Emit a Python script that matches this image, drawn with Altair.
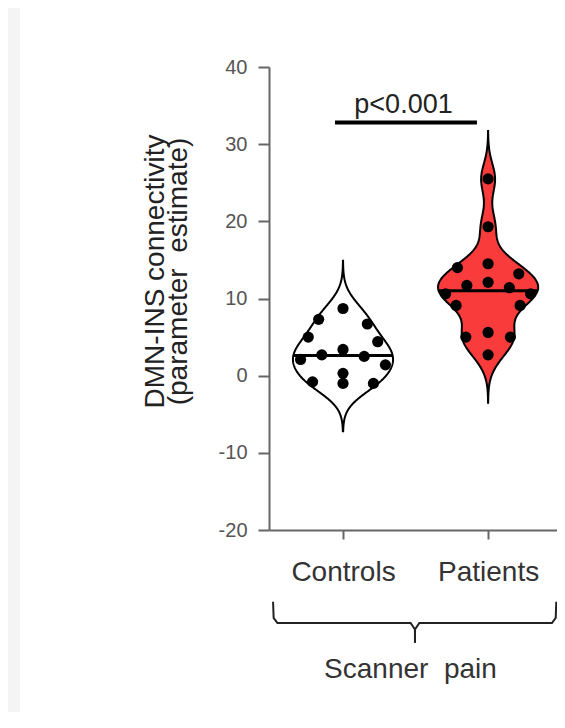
import itertools
import numpy as np
import pandas as pd
import altair as alt

# ---------------- data ----------------
GROUPS = ["Controls", "Patients"]
CONTROLS = [8.7, 7.3, 6.7, 5.0, 4.4, 3.4, 2.7, 2.5, 2.1, 1.4, 0.3, -0.8, -1.0, -1.0]
PATIENTS = [25.5, 19.3, 14.5, 14.0, 13.2, 12.1, 11.7, 11.4, 10.6, 10.6, 9.1, 9.1, 5.6, 5.0, 5.0, 2.7]
Y_TICKS = [-20, -10, 0, 10, 20, 30, 40]
Y_TITLE = ["DMN-INS connectivity", "(parameter\u00a0 estimate)"]
BRACKET_LABEL = "Scanner\u00a0 pain"
P_TEXT = "p<0.001"

# ---------------- style ----------------
FONT = "Liberation Sans"
FILLS = ["white", "#f93b3b"]
BANDWIDTH = [2.0, 2.0]
CUT = 3.1
HALF_MAX = 0.345
SPREAD = 0.85
CHAIN_GAP = 0.95
DOT_SIZE = 125
W, H = 288, 463
PX_PER_X = 145.1
X_DOMAIN = [0.49, 0.49 + W / PX_PER_X]
Y_DOMAIN = [-20, 40]
PX_PER_Y = H / (Y_DOMAIN[1] - Y_DOMAIN[0])
PAD = {"left": 261, "top": 59, "right": 0, "bottom": 182}

SIG = {"x": 0.945, "x2": 1.923, "y": 32.8, "tx": 1.417, "ty": 34.1}
BRACKET = {"x0": 0.518, "x1": 2.47, "mid": 1.496, "top": -29.3, "bend": -31.4,
           "y": -32.05, "knee": -32.9, "tip": -34.6, "curve": 0.03,
           "lx": 1.465, "ly": -39.2}

# ---------------- computed layout (KDE violins, collision-aware spreading) ----------------
clear = 2 * np.sqrt(DOT_SIZE / np.pi) + 1.5
violin_rows, median_rows, point_rows = [], [], []
for gi, (name, vals, bw) in enumerate(zip(GROUPS, [CONTROLS, PATIENTS], BANDWIDTH)):
    center = gi + 1
    v = np.array(vals, dtype=float)
    grid = np.linspace(v.min() - CUT * bw, v.max() + CUT * bw, 301)
    dens = np.exp(-0.5 * ((grid[:, None] - v[None, :]) / bw) ** 2).sum(axis=1)
    half = dens / dens.max() * HALF_MAX
    for g, h in zip(grid, half):
        violin_rows.append({"group": name, "y": g, "lo": center - h, "hi": center + h})
    med = float(np.median(v))
    hm = float(np.interp(med, grid, half))
    median_rows.append({"group": name, "y": med, "lo": center - hm, "hi": center + hm})

    order = sorted(range(len(v)), key=lambda i: -v[i])
    groups = []
    for i in order:
        if groups and v[groups[-1][-1]] - v[i] <= CHAIN_GAP:
            groups[-1].append(i)
        else:
            groups.append([i])
    placed = []
    for grp in groups:
        k = len(grp)
        if k == 1:
            slots = [0.0]
        else:
            slots = sorted(np.linspace(-1, 1, k), key=lambda s: (round(abs(s), 6), s))
        hw = float(np.interp(np.mean(v[grp]), grid, half)) * SPREAD
        best, best_score = None, -1.0
        for perm in itertools.permutations(slots):
            pts = [((center + s * hw) * PX_PER_X, v[i] * PX_PER_Y) for i, s in zip(grp, perm)]
            d = [np.hypot(a[0] - b[0], a[1] - b[1]) for a in pts for b in placed]
            d += [np.hypot(a[0] - b[0], a[1] - b[1]) for a, b in itertools.combinations(pts, 2)]
            score = min(min(d) if d else clear, clear)
            if score > best_score + 1e-6:
                best, best_score = perm, score
        for i, s in zip(grp, best):
            x = center + s * hw
            placed.append((x * PX_PER_X, v[i] * PX_PER_Y))
            point_rows.append({"group": name, "y": v[i], "x": x})

violin_df = pd.DataFrame(violin_rows)
median_df = pd.DataFrame(median_rows)
point_df = pd.DataFrame(point_rows)

B = BRACKET
bracket_df = pd.DataFrame([
    {"side": "L", "o": 0, "x": B["x0"], "y": B["top"]},
    {"side": "L", "o": 1, "x": B["x0"] + 0.004, "y": B["bend"]},
    {"side": "L", "o": 2, "x": B["x0"] + B["curve"], "y": B["y"]},
    {"side": "L", "o": 3, "x": B["mid"] - B["curve"], "y": B["y"]},
    {"side": "L", "o": 4, "x": B["mid"], "y": B["knee"]},
    {"side": "L", "o": 5, "x": B["mid"], "y": B["tip"]},
    {"side": "R", "o": 0, "x": B["x1"], "y": B["top"]},
    {"side": "R", "o": 1, "x": B["x1"] - 0.004, "y": B["bend"]},
    {"side": "R", "o": 2, "x": B["x1"] - B["curve"], "y": B["y"]},
    {"side": "R", "o": 3, "x": B["mid"] + B["curve"], "y": B["y"]},
    {"side": "R", "o": 4, "x": B["mid"], "y": B["knee"]},
    {"side": "R", "o": 5, "x": B["mid"], "y": B["tip"]},
])

# ---------------- scales & axes ----------------
xs = alt.Scale(domain=X_DOMAIN, nice=False, zero=False)
ys = alt.Scale(domain=Y_DOMAIN, nice=False, zero=False)
label_expr = "[" + ",".join("'%s'" % g for g in GROUPS) + "][datum.value - 1]"
XA = alt.Axis(values=[1, 2], labelExpr=label_expr, title=None, grid=False,
              labelFontSize=28, labelColor="#333", labelPadding=19, labelFont=FONT,
              labelOverlap=False, tickSize=9, tickWidth=2, tickColor="#666",
              domainColor="#666", domainWidth=2, zindex=1)
YA = alt.Axis(values=Y_TICKS, title=Y_TITLE, grid=False,
              labelExpr="replace(datum.label, '\u2212', '-')",
              titleFont=FONT, titleFontSize=28, titleFontWeight="normal", titleColor="#222",
              titleLineHeight=23, titleX=-100, titleY=204, titleBaseline="bottom",
              labelFontSize=20, labelColor="#555", labelPadding=11, labelFont=FONT,
              labelOverlap=False, tickSize=11, tickWidth=2, tickColor="#666",
              domainColor="#666", domainWidth=2, zindex=1)

bg = alt.Chart(pd.DataFrame({"k": [0]})).mark_rect(color="white").encode(
    x=alt.value(-249), x2=alt.value(W + 10), y=alt.value(-70), y2=alt.value(H + 200))

violins = alt.Chart(violin_df).mark_area(orient="horizontal", stroke="black", strokeWidth=2).encode(
    y=alt.Y("y:Q", scale=ys, axis=YA),
    x=alt.X("lo:Q", scale=xs, axis=XA),
    x2="hi:Q",
    fill=alt.Fill("group:N", scale=alt.Scale(domain=GROUPS, range=FILLS), legend=None),
    detail="group:N",
)

medians = alt.Chart(median_df).mark_rule(color="black", strokeWidth=3).encode(
    y=alt.Y("y:Q", scale=ys, axis=YA),
    x=alt.X("lo:Q", scale=xs, axis=XA),
    x2="hi:Q",
)

points = alt.Chart(point_df).mark_circle(size=DOT_SIZE, color="black", opacity=1).encode(
    y=alt.Y("y:Q", scale=ys, axis=YA),
    x=alt.X("x:Q", scale=xs, axis=XA),
)

sig_df = pd.DataFrame([SIG])
sig_bar = alt.Chart(sig_df).mark_rule(color="black", strokeWidth=4).encode(
    y=alt.Y("y:Q", scale=ys, axis=YA),
    x=alt.X("x:Q", scale=xs, axis=XA),
    x2="x2:Q",
)
sig_text = alt.Chart(sig_df).mark_text(text=P_TEXT, font=FONT, fontSize=27, color="#222",
                                       baseline="alphabetic", align="center").encode(
    y=alt.Y("ty:Q", scale=ys, axis=YA),
    x=alt.X("tx:Q", scale=xs, axis=XA),
)

bracket = alt.Chart(bracket_df).mark_line(color="#222", strokeWidth=2).encode(
    x=alt.X("x:Q", scale=xs, axis=XA),
    y=alt.Y("y:Q", scale=ys, axis=YA),
    detail="side:N",
    order="o:Q",
)
bracket_text = alt.Chart(pd.DataFrame([{"x": B["lx"], "y": B["ly"]}])).mark_text(
    text=BRACKET_LABEL, font=FONT, fontSize=28, color="#333", baseline="alphabetic", align="center"
).encode(
    x=alt.X("x:Q", scale=xs, axis=XA),
    y=alt.Y("y:Q", scale=ys, axis=YA),
)

chart = alt.layer(bg, violins, medians, points, sig_bar, sig_text, bracket, bracket_text).properties(
    width=W, height=H,
    autosize=alt.AutoSizeParams(type="none"),
    padding=PAD,
).configure(font=FONT, background="#f4f4f4").configure_view(strokeWidth=0)

chart.save("out.html", embed_options={"renderer": "svg", "actions": False})
